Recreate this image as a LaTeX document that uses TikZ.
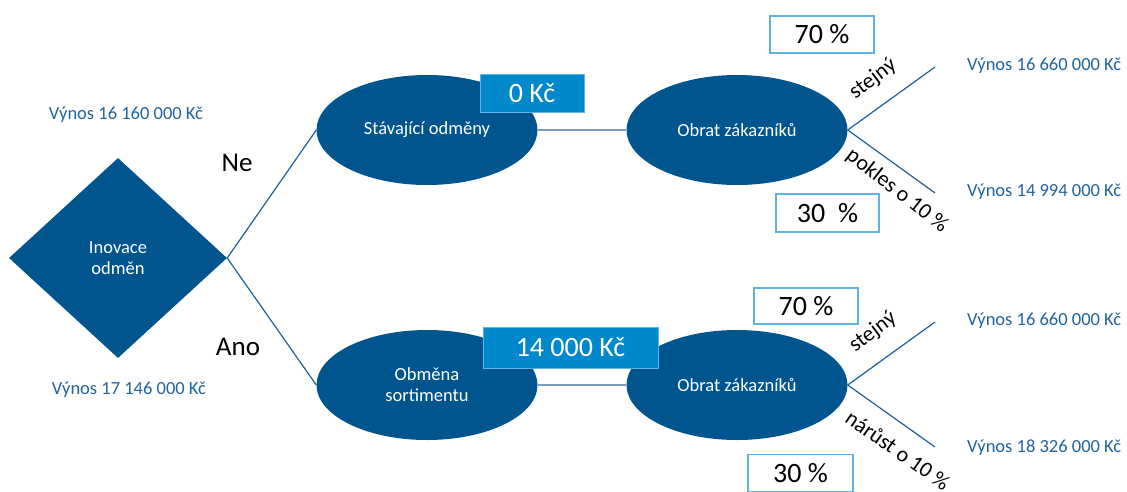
\documentclass[tikz,border=0pt]{standalone}
\usepackage{fontspec}
\setmainfont{Carlito}
\usetikzlibrary{shapes.geometric}
\definecolor{darkblue}{HTML}{00558F}
\definecolor{boxblue}{HTML}{0088CC}
\definecolor{boxedge}{HTML}{5BB4E4}
\definecolor{labelblue}{HTML}{1F64A0}
\definecolor{linkblue}{HTML}{1F5F96}
\definecolor{softlink}{HTML}{7A9CC0}
\begin{document}
\begin{tikzpicture}[x=1pt,y=-1pt,
  ellnode/.style={ellipse,fill=darkblue,draw=none,minimum width=221pt,minimum height=110pt,inner sep=0pt,text=white,font=\fontsize{18.5}{21}\selectfont,align=center},
  dianode/.style={diamond,fill=darkblue,draw=none,minimum width=218pt,minimum height=200pt,inner sep=0pt,text=white,font=\fontsize{18.5}{21}\selectfont,align=center},
  costbox/.style={rectangle,fill=boxblue,draw=boxedge,line width=1pt,inner sep=0pt,text=white,font=\fontsize{28}{30}\selectfont},
  pctbox/.style={rectangle,fill=white,draw=boxedge,line width=1.5pt,inner sep=0pt,text=black,font=\fontsize{28}{30}\selectfont},
  yield/.style={text=labelblue,font=\fontsize{18.5}{21}\selectfont,inner sep=0pt},
  choice/.style={text=black,font=\fontsize{27}{30}\selectfont,inner sep=0pt},
  branchlbl/.style={text=black,font=\fontsize{22}{24}\selectfont,inner sep=0pt},
  link/.style={draw=linkblue,line width=1.2pt},
  softline/.style={draw=softlink,line width=2pt}]
\useasboundingbox (0,0) rectangle (1127,491);

% decision node
\node[dianode] (dia) at (118,258) {Inovace\\odměn};

% ellipses
\node[ellnode] (e1) at (427,130) {Stávající odměny};
\node[ellnode] (e2) at (737,130) {Obrat zákazníků};
\node[ellnode] (e3) at (427,385) {Obměna\\sortimentu};
\node[ellnode] (e4) at (737,385) {Obrat zákazníků};

% connectors
\draw[link] (dia.east) -- (e1.west);
\draw[link] (dia.east) -- (e3.west);
\draw[softline] (e1.east) -- (e2.west);
\draw[softline] (e3.east) -- (e4.west);

\coordinate (t1) at (935,67);
\coordinate (t2) at (935,193);
\coordinate (t3) at (935,322);
\coordinate (t4) at (935,447);
\draw[link] (e2.east) -- (t1);
\draw[link] (e2.east) -- (t2);
\draw[link] (e4.east) -- (t3);
\draw[link] (e4.east) -- (t4);

% cost boxes
\node[costbox,minimum width=104pt,minimum height=38pt] (c1) at (532,93) {0 Kč};
\node[costbox,minimum width=175pt,minimum height=41pt] (c2) at (570.5,347.5) {14 000 Kč};

% probability boxes
\node[pctbox,minimum width=104pt,minimum height=37pt] (p1) at (822,34.5) {70 \%};
\node[pctbox,minimum width=103pt,minimum height=38pt] (p2) at (827.5,213) {30\ \ \%};
\node[pctbox,minimum width=104pt,minimum height=36pt] (p3) at (806,306) {70 \%};
\node[pctbox,minimum width=105pt,minimum height=37pt] (p4) at (800.5,473) {30 \%};

% branch labels
\node[branchlbl,rotate=37] (s1) at (873,79) {stejný};
\node[branchlbl,rotate=-38] (s2) at (897,191) {pokles o 10 \%};
\node[branchlbl,rotate=37] (s3) at (873,332) {stejný};
\node[branchlbl,rotate=-35] (s4) at (898,450) {nárůst o 10 \%};

% yes/no
\node[choice] (ne) at (237,163) {Ne};
\node[choice] (ano) at (238,347) {Ano};

% yields
\node[yield] (y0) at (126,115) {Výnos 16 160 000 Kč};
\node[yield] (y1) at (129,390) {Výnos 17 146 000 Kč};
\node[yield,anchor=west] (y2) at (967,66) {Výnos 16 660 000 Kč};
\node[yield,anchor=west] (y3) at (967,192) {Výnos 14 994 000 Kč};
\node[yield,anchor=west] (y4) at (967,321) {Výnos 16 660 000 Kč};
\node[yield,anchor=west] (y5) at (967,448) {Výnos 18 326 000 Kč};
\end{tikzpicture}
\end{document}
